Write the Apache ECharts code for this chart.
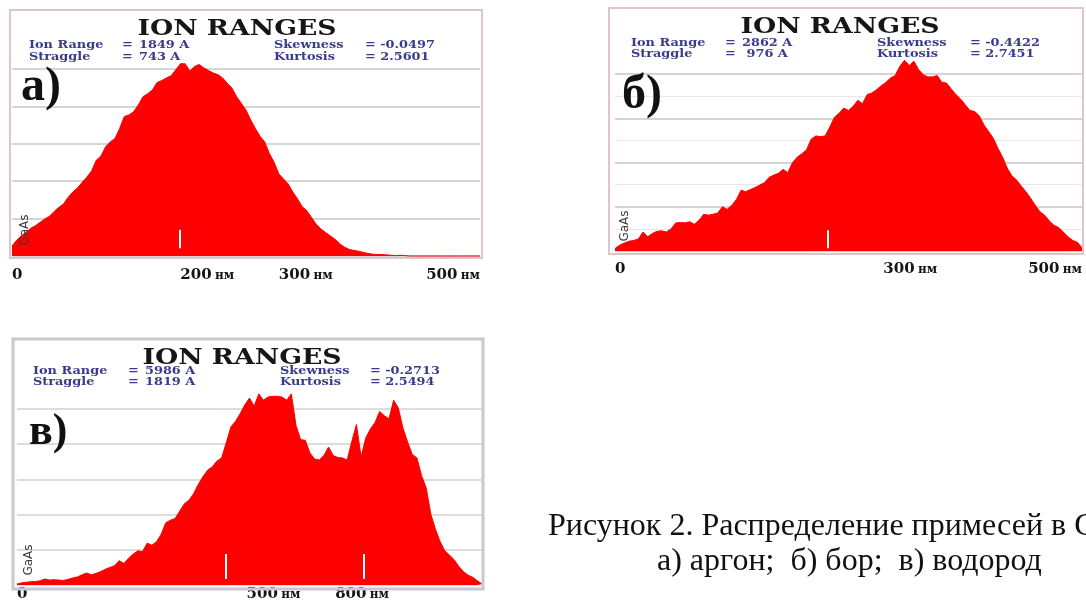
<!DOCTYPE html>
<html>
<head>
<meta charset="utf-8">
<script src="https://cdn.jsdelivr.net/npm/echarts@6/dist/echarts.min.js"></script>
<style>
  html, body { margin: 0; padding: 0; background: #ffffff; }
  #chart { width: 1086px; height: 602px; }
</style>
</head>
<body>
<div id="chart"></div>
<script>
// TRIM depth profiles: counts per depth bin, in units of the horizontal grid step.
// а) argon, 0–500 nm, 5 nm bins
const binA = 5;
const countsA = [
  0.27, 0.42, 0.54, 0.63, 0.74, 0.81, 0.90, 0.99, 1.06, 1.19,
  1.30, 1.39, 1.57, 1.71, 1.82, 1.97, 2.11, 2.27, 2.56, 2.67,
  2.92, 3.05, 3.14, 3.41, 3.73, 3.77, 3.86, 4.04, 4.26, 4.34,
  4.44, 4.64, 4.69, 4.76, 4.82, 4.98, 5.14, 5.14, 4.94, 5.07,
  5.12, 5.03, 4.96, 4.89, 4.85, 4.76, 4.62, 4.49, 4.26, 4.08,
  3.90, 3.64, 3.41, 3.20, 3.05, 2.74, 2.51, 2.20, 2.06, 1.93,
  1.71, 1.53, 1.32, 1.21, 1.03, 0.85, 0.72, 0.63, 0.54, 0.45,
  0.33, 0.24, 0.18, 0.15, 0.13, 0.10, 0.07, 0.05, 0.04, 0.04,
  0.03, 0.02, 0.01, 0.02, 0.01, 0, 0, 0, 0, 0,
  0, 0, 0, 0, 0, 0, 0, 0, 0, 0,
  0
];
// б) boron, 0–500 nm, 5 nm bins
const binB = 5;
const countsB = [
  0.11, 0.26, 0.36, 0.44, 0.48, 0.54, 0.86, 0.64, 0.79, 0.89,
  0.91, 0.86, 1.00, 1.27, 1.29, 1.27, 1.32, 1.21, 1.39, 1.66,
  1.62, 1.66, 1.72, 2.00, 1.88, 2.07, 2.33, 2.75, 2.68, 2.78,
  2.87, 2.98, 3.09, 3.33, 3.43, 3.51, 3.69, 3.54, 3.99, 4.24,
  4.39, 4.57, 5.05, 5.20, 5.17, 5.20, 5.60, 6.05, 6.23, 6.46,
  6.35, 6.54, 6.81, 6.66, 7.07, 7.14, 7.29, 7.47, 7.62, 7.82,
  7.93, 8.35, 8.62, 8.38, 8.58, 8.20, 7.97, 7.87, 7.87, 7.93,
  7.62, 7.59, 7.32, 7.07, 6.87, 6.61, 6.35, 6.31, 6.11, 5.70,
  5.40, 5.10, 4.64, 4.24, 3.74, 3.39, 3.21, 2.93, 2.68, 2.38,
  2.07, 1.77, 1.62, 1.36, 1.16, 1.06, 0.86, 0.64, 0.48, 0.39,
  0.15
];
// в) hydrogen, 0–1000 nm, 10 nm bins
const binC = 10;
const countsC = [
  0.03, 0.06, 0.08, 0.09, 0.10, 0.12, 0.17, 0.14, 0.15, 0.14,
  0.13, 0.16, 0.20, 0.23, 0.29, 0.34, 0.29, 0.33, 0.38, 0.45,
  0.50, 0.55, 0.69, 0.61, 0.76, 0.88, 0.97, 0.95, 1.19, 1.13,
  1.23, 1.44, 1.77, 1.84, 1.89, 2.10, 2.31, 2.41, 2.60, 2.86,
  3.08, 3.26, 3.36, 3.52, 3.61, 4.04, 4.49, 4.65, 4.87, 5.12,
  5.31, 5.08, 5.43, 5.25, 5.34, 5.36, 5.36, 5.34, 5.25, 5.43,
  4.53, 4.13, 4.11, 3.75, 3.58, 3.55, 3.68, 3.92, 3.68, 3.62,
  3.61, 3.55, 4.08, 4.56, 3.64, 4.18, 4.43, 4.62, 4.93, 4.81,
  4.72, 5.25, 5.03, 4.46, 4.06, 3.71, 3.61, 3.11, 2.76, 2.01,
  1.58, 1.23, 0.97, 0.85, 0.72, 0.53, 0.38, 0.28, 0.22, 0.12,
  0.03
];

// Depth tick labels (nm) and white cursor marks (nm) per panel
const ticksA = [0, 200, 300, 500];
const ticksB = [0, 300, 500];
const ticksC = [0, 500, 800];
const cursorsA = [179];
const cursorsB = [228];
const cursorsC = [449, 746];

// TRIM statistics shown in each header
const statsA = { range: '1849 A', straggle: '743 A', skew: '= -0.0497', kurt: '= 2.5601' };
const statsB = { range: '2862 A', straggle: ' 976 A', skew: '= -0.4422', kurt: '= 2.7451' };
const statsC = { range: '5986 A', straggle: '1819 A', skew: '= -0.2713', kurt: '= 2.5494' };

const RED = '#ff0000';
const SERIF_B = '"DejaVu Serif", serif';

function toPairs(counts, bin) {
  return counts.map((v, i) => [i * bin, v]);
}

function depthAxis(idx, max, ticks, nudges, margin) {
  const rich = { d: { fontFamily: SERIF_B, fontWeight: 'bold', fontSize: 15, color: '#151515' },
                 u: { fontFamily: SERIF_B, fontWeight: 'bold', fontSize: 12, color: '#151515' } };
  Object.keys(nudges).forEach(k => {
    rich['d' + k] = Object.assign({}, rich.d, { padding: [0, 0, 0, nudges[k] * 2] });
  });
  return {
    type: 'value', gridIndex: idx, min: 0, max: max,
    axisLine: { show: false },
    splitLine: { show: false },
    axisTick: { show: true, inside: true, length: 4, lineStyle: { color: '#e2e2e2' },
                customValues: [0.2, 0.4, 0.6, 0.8].map(f => f * max) },
    axisLabel: {
      show: true, margin: margin, customValues: ticks,
      alignMinLabel: 'left', alignMaxLabel: 'right',
      formatter: v => {
        if (v === 0) return '{d|0}';
        const key = nudges[v] !== undefined ? 'd' + v : 'd';
        return '{' + key + '|' + v + '} {u|нм}';
      },
      rich: rich
    }
  };
}

function countAxis(idx, max, interval, gridColor, gridWidth, minor) {
  const ax = {
    type: 'value', gridIndex: idx, min: 0, max: max, interval: interval,
    axisLine: { show: false }, axisTick: { show: false }, axisLabel: { show: false },
    splitLine: { show: true, lineStyle: { color: gridColor, width: gridWidth } }
  };
  if (minor) {
    ax.minorTick = { show: false, splitNumber: 2 };
    ax.minorSplitLine = { show: true, lineStyle: { color: '#e6e6e6', width: 1 } };
  }
  return ax;
}

function profile(idx, data, cursors, lo, hi) {
  return {
    type: 'line', xAxisIndex: idx, yAxisIndex: idx,
    data: data, symbol: 'none', clip: false, animation: false,
    lineStyle: { color: RED, width: 1 },
    areaStyle: { color: RED, opacity: 1 },
    markLine: {
      silent: true, animation: false, symbol: ['none', 'none'],
      label: { show: false },
      lineStyle: { color: '#ffffff', width: 2, type: 'solid' },
      data: cursors.map(x => [{ coord: [x, lo] }, { coord: [x, hi] }])
    }
  };
}

function header(cx, titleY, labX, eqX, valX, skX, skvX, y1, y2, st) {
  const els = [];
  els.push({ type: 'text', x: cx, y: titleY, scaleX: 1.16, z: 10,
    style: { text: 'ION RANGES', font: 'bold 23px ' + SERIF_B, fill: '#161616',
             textAlign: 'center', textVerticalAlign: 'middle' } });
  const small = (x, y, t) => ({ type: 'text', x: x, y: y, scaleX: 1.17, z: 10,
    style: { text: t, font: 'bold 11px ' + SERIF_B, fill: '#3b3b8e',
             textAlign: 'left', textVerticalAlign: 'middle' } });
  els.push(small(labX, y1, 'Ion Range'), small(eqX, y1, '='), small(valX, y1, st.range),
           small(labX, y2, 'Straggle'), small(eqX, y2, '='), small(valX, y2, st.straggle),
           small(skX, y1, 'Skewness'), small(skvX, y1, st.skew),
           small(skX, y2, 'Kurtosis'), small(skvX, y2, st.kurt));
  return els;
}

function letter(x, y, t, size) {
  return { type: 'text', x: x, y: y, z: 10,
    style: { text: t, font: 'bold ' + size + 'px "Liberation Serif", serif', fill: '#111111',
             textAlign: 'left', textVerticalAlign: 'middle' } };
}

function layerName(x, y) {
  return { type: 'text', x: x, y: y, rotation: Math.PI / 2, z: 10,
    style: { text: 'GaAs', font: '12px "DejaVu Sans", sans-serif', fill: '#3a3a3a',
             textAlign: 'center', textVerticalAlign: 'middle' } };
}

function frame(x, y, w, h, color, lw) {
  return { type: 'rect', z: 5, silent: true,
    shape: { x: x, y: y, width: w, height: h },
    style: { fill: 'transparent', stroke: color, lineWidth: lw } };
}

const chart = echarts.init(document.getElementById('chart'), null, { renderer: 'canvas' });

const graphics = [].concat(
  [frame(10, 10, 472, 248, '#dcc6c6', 2),
   frame(609, 8, 474, 246, '#dcc6c6', 2),
   frame(13, 339, 470, 250, '#c8c8d0', 3)],
  header(237, 29, 29, 122, 139, 274, 365, 45, 57, statsA),
  header(840, 27, 631, 725, 742, 877, 970, 43, 54, statsB),
  header(242, 358, 33, 128, 145, 280, 370, 371, 382, statsC),
  [letter(21, 88, 'а)', 48), letter(622, 96, 'б)', 48), letter(29, 433, 'в)', 44)],
  [layerName(25, 230), layerName(625, 226), layerName(29, 560)],
  [
    { type: 'text', x: 548, y: 527, z: 10,
      style: { text: 'Рисунок 2. Распределение примесей в GaAs', font: '32px "Liberation Serif", serif',
               fill: '#111111', textAlign: 'left', textVerticalAlign: 'middle' } },
    { type: 'text', x: 657, y: 562, z: 10,
      style: { text: 'а) аргон;  б) бор;  в) водород', font: '32px "Liberation Serif", serif',
               fill: '#111111', textAlign: 'left', textVerticalAlign: 'middle' } }
  ]
);

chart.setOption({
  backgroundColor: '#ffffff',
  animation: false,
  grid: [
    { left: 12, right: 606, top: 69, bottom: 346 },
    { left: 615, right: 4, top: 74, bottom: 351 },
    { left: 17, right: 604, top: 409, bottom: 16 }
  ],
  xAxis: [
    depthAxis(0, 500, ticksA, { 200: 8, 300: 13 }, 12),
    depthAxis(1, 500, ticksB, { 300: 15 }, 11),
    depthAxis(2, 1000, ticksC, { 500: 24, 800: 8 }, 2)
  ],
  yAxis: [
    countAxis(0, 5, 1, '#d6d6d6', 2, false),
    countAxis(1, 8, 2, '#c6c6c6', 1.5, true),
    countAxis(2, 5, 1, '#d2d2d2', 1.5, false)
  ],
  series: [
    profile(0, toPairs(countsA, binA), cursorsA, 0.21, 0.70),
    profile(1, toPairs(countsB, binB), cursorsB, 0.12, 0.94),
    profile(2, toPairs(countsC, binC), cursorsC, 0.17, 0.88)
  ],
  graphic: graphics
});
</script>
</body>
</html>
